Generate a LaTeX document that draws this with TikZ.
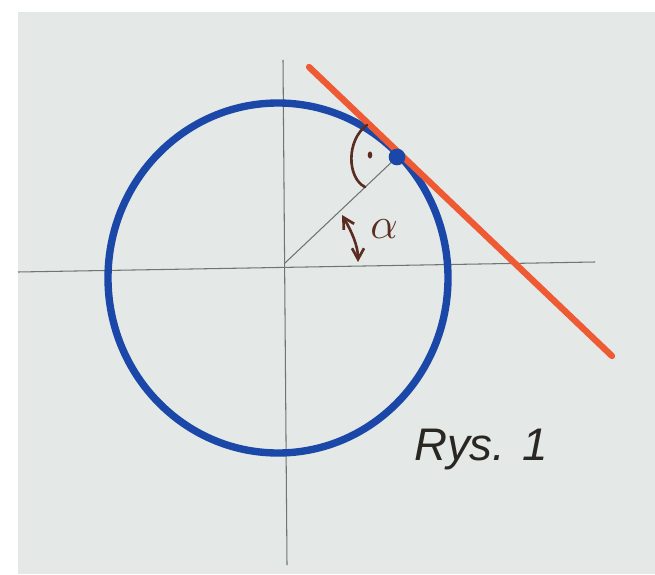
\documentclass[tikz,border=0pt]{standalone}
\usepackage{fontspec}
\newfontfamily\handfont{Liberation Sans}
\usetikzlibrary{arrows.meta,shapes.geometric}
\definecolor{paper}{HTML}{E4E8E6}
\definecolor{axisgray}{HTML}{6E766F}
\definecolor{markblue}{HTML}{1A47A8}
\definecolor{markred}{HTML}{EE5A33}
\definecolor{inkbrown}{HTML}{5A2C22}
\definecolor{inkblack}{HTML}{2A2622}

\begin{document}
\begin{tikzpicture}[
  x=0.02cm, y=-0.02cm,
  axis/.style={draw=axisgray,line width=0.6pt},
  pen/.style={draw=inkbrown,line width=1.5pt,line cap=round},
  >={Straight Barb[length=2.2mm,width=2.4mm]}
]
% ---- sheet ----
\fill[white] (0,0) rectangle (655,574);
\fill[paper] (18,12) rectangle (655,574);
% ---- axes ----
\coordinate (O) at (285,263);
\coordinate (xl) at (18,272);
\coordinate (xr) at (595,262);
\coordinate (yt) at (283,60);
\coordinate (yb) at (287,565);
\draw[axis] (xl) -- (xr);
\draw[axis] (yt) -- (yb);
% ---- circle, radius, tangent ----
\coordinate (C) at (278,278);
\coordinate (T) at (397,157);
\coordinate (r1) at (309,67);
\coordinate (r2) at (612,356);
\draw[axis] (O) -- (T);
\draw[markblue,line width=4.2pt] (C) ellipse [x radius=170, y radius=175];
\draw[markred,line width=3.6pt,line cap=round] (r1) -- (r2);
\node[circle,fill=markblue,inner sep=0pt,minimum size=9.5pt] (tp) at (T) {};
% ---- angle marks ----
\draw[pen] (367,125) .. controls (346,140) and (347,178) .. (365,187);
\node[ellipse,fill=inkbrown,inner sep=0pt,minimum width=2.6pt,minimum height=4pt] (rdot) at (370,155) {};
\coordinate (a1) at (342,215);
\coordinate (a2) at (358,262);
\draw[pen,<->] (a1) .. controls (352,232) and (358,246) .. (a2);
\node[text=inkbrown,font=\fontsize{31}{31}\selectfont] (alpha) at (384,229) {$\alpha$};
% ---- caption ----
\node[text=inkblack,font=\handfont\itshape\fontsize{26}{26}\selectfont] (cap) at (481,450) {Rys. 1};
\end{tikzpicture}
\end{document}
